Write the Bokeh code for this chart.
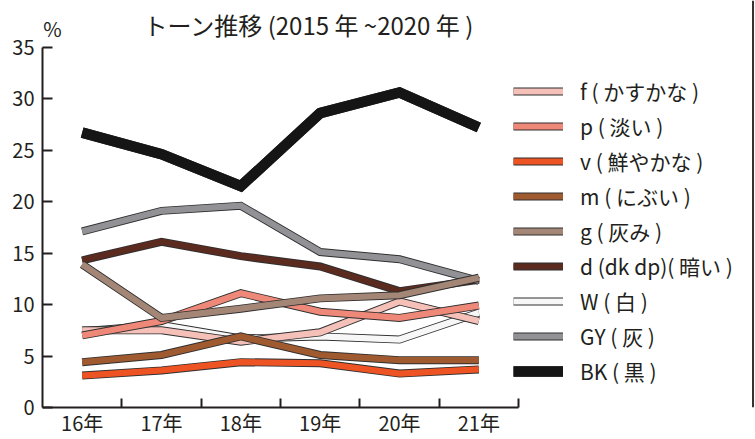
from bokeh.plotting import figure
from bokeh.models import Legend, LegendItem, FixedTicker, Label, Range1d, Span
from bokeh.embed import file_html
from bokeh.resources import INLINE

years = ["16年", "17年", "18年", "19年", "20年", "21年"]
y_ticks = [0, 5, 10, 15, 20, 25, 30, 35]

f_vals = [7.5, 7.5, 6.4, 7.3, 10.3, 8.4]
p_vals = [7.0, 8.4, 11.1, 9.3, 8.7, 9.9]
v_vals = [3.1, 3.6, 4.4, 4.3, 3.3, 3.7]
m_vals = [4.4, 5.1, 6.9, 5.1, 4.6, 4.6]
g_vals = [13.9, 8.7, 9.6, 10.6, 10.9, 12.6]
d_vals = [14.3, 16.1, 14.7, 13.7, 11.3, 12.4]
w_vals = [7.4, 8.0, 6.7, 6.9, 6.6, 9.2]
gy_vals = [17.1, 19.1, 19.6, 15.1, 14.4, 12.3]
bk_vals = [26.7, 24.6, 21.5, 28.6, 30.6, 27.2]

names = ["f ( かすかな )", "p ( 淡い )", "v ( 鮮やかな )", "m ( にぶい )", "g ( 灰み )",
         "d (dk dp)( 暗い )", "W ( 白 )", "GY ( 灰 )", "BK ( 黒 )"]
series = [f_vals, p_vals, v_vals, m_vals, g_vals, d_vals, w_vals, gy_vals, bk_vals]
colors = ["#F4C0B8", "#EE8878", "#EE5324", "#A05A30", "#A48676", "#5B2B20",
          "#F7F7F7", "#919196", "#151515"]
draw_order = [6, 0, 1, 2, 3, 5, 7, 4, 8]

FONT = "Noto Sans CJK JP"
INK = "#231f20"

W, H = 755, 439
LEFT, BOTTOM = 42, 29
PX_X = 476 / len(years)      # pixels per category
PX_Y = 363 / 35.0            # pixels per percent
x_end = (W - LEFT) / PX_X
y_end = (H - BOTTOM) / PX_Y

xs = [i + 0.5 for i in range(len(years))]

p = figure(width=W, height=H, output_backend="svg", toolbar_location=None,
           x_range=Range1d(0, x_end), y_range=Range1d(0, y_end),
           min_border_left=LEFT, min_border_right=0, min_border_top=0,
           min_border_bottom=BOTTOM)
p.grid.visible = False
p.outline_line_color = None
p.background_fill_color = "white"
p.border_fill_color = "white"

renderers = {}
for i in draw_order:
    w = 10.5 if i == 8 else 8
    casing = p.line(xs, series[i], line_width=w, line_color="#2f2f2f",
                    line_join="miter", line_cap="butt")
    fill = p.line(xs, series[i], line_width=w - 1.8 if i != 8 else w,
                  line_color=colors[i], line_join="miter", line_cap="butt")
    renderers[i] = [casing, fill]

items = [LegendItem(label=names[i], renderers=renderers[i]) for i in range(len(names))]
legend = Legend(items=items, location=(471, 21), label_text_font=FONT,
                label_text_font_size="21px", label_text_color=INK,
                glyph_width=50, glyph_height=20, label_height=20, spacing=5,
                padding=0, margin=0, border_line_color=None,
                background_fill_alpha=0, label_standoff=17)
p.add_layout(legend)

# page border on the right
p.add_layout(Span(location=x_end - 2.5 / PX_X, dimension="height",
                  line_color="#333333", line_width=2))

# y axis
ya = p.yaxis[0]
ya.bounds = (0, 35)
ya.ticker = FixedTicker(ticks=y_ticks, minor_ticks=[])
ya.axis_line_width = 2
ya.axis_line_color = INK
ya.major_tick_in = 10
ya.major_tick_out = 0
ya.major_tick_line_width = 2
ya.major_tick_line_color = INK
ya.major_label_standoff = 8
ya.major_label_text_font = FONT
ya.major_label_text_font_size = "20px"
ya.major_label_text_color = INK

# x axis
xa = p.xaxis[0]
xa.bounds = (0, len(years))
xa.ticker = FixedTicker(ticks=xs, minor_ticks=[i + 1 for i in range(len(years))])
xa.major_label_overrides = {x: lab for x, lab in zip(xs, years)}
xa.axis_line_width = 2
xa.axis_line_color = INK
xa.major_tick_line_color = None
xa.major_tick_in = 0
xa.major_tick_out = 0
xa.minor_tick_in = 9
xa.minor_tick_out = 0
xa.minor_tick_line_width = 2
xa.minor_tick_line_color = INK
xa.major_label_standoff = 0
xa.major_label_text_font = FONT
xa.major_label_text_font_size = "20px"
xa.major_label_text_color = INK

title = Label(x=1.273, y=37.22, text="トーン推移 (2015 年 ~2020 年 )", text_font=FONT,
              text_font_size="24px", text_color=INK, text_baseline="middle",
              text_align="left")
pct = Label(x=0.01, y=36.83, text="%", text_font=FONT, text_font_size="20px",
            text_color=INK, text_baseline="middle", text_align="left")
p.add_layout(title)
p.add_layout(pct)

open("out.html", "w").write(file_html(p, INLINE))
